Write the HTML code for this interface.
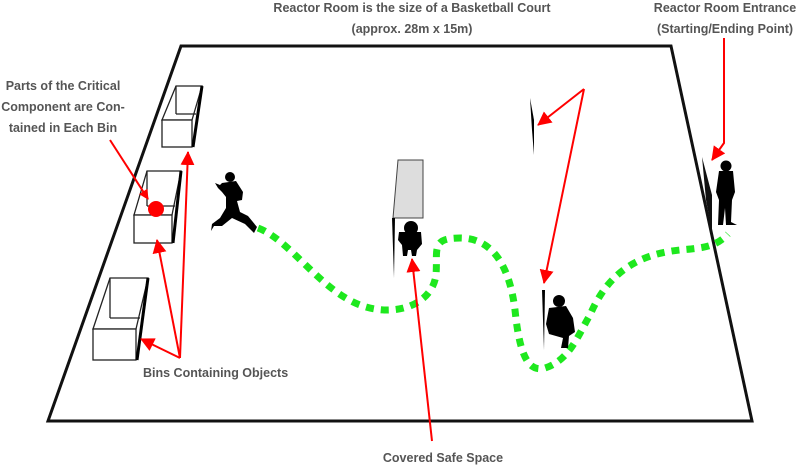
<!DOCTYPE html>
<html><head><meta charset="utf-8"><style>
html,body{margin:0;padding:0;background:#fff;}
svg{display:block;}
text{font-family:"Liberation Sans",sans-serif;font-weight:bold;font-size:12.5px;fill:#555;}
</style></head><body>
<svg width="799" height="465" viewBox="0 0 799 465" xmlns="http://www.w3.org/2000/svg">
<defs>
<marker id="ah" markerWidth="10" markerHeight="10" refX="9" refY="5" orient="auto" markerUnits="userSpaceOnUse" viewBox="0 0 10 10">
<path d="M0,0 L10,5 L0,10 z" fill="#f00"/></marker>
<marker id="ah2" markerWidth="14" markerHeight="14" refX="13" refY="7" orient="auto" markerUnits="userSpaceOnUse" viewBox="0 0 14 14">
<path d="M0,0 L14,7 L0,14 z" fill="#f00"/></marker>
</defs>
<polygon points="181,46 671,46 752,421 48,421" fill="#fff" stroke="#111" stroke-width="3"/>

<g fill="#fff" stroke="#222" stroke-width="1.3">
 <polygon points="176,86 202,86 192,120 162,120"/>
 <line x1="176" y1="86" x2="176" y2="114"/><line x1="176" y1="114" x2="196" y2="114"/>
 <rect x="162" y="120" width="30" height="27"/>
 <line x1="202" y1="86" x2="193" y2="147" stroke="#000" stroke-width="3"/>

 <polygon points="147,171 181,171 172,215 134,215"/>
 <line x1="147" y1="171" x2="147" y2="206"/><line x1="147" y1="206" x2="175" y2="206"/>
 <rect x="134" y="215" width="38" height="28"/>
 <line x1="181" y1="171" x2="173" y2="243" stroke="#000" stroke-width="3"/>

 <polygon points="110,278 148,278 136,329 93,329"/>
 <line x1="110" y1="278" x2="110" y2="318"/><line x1="110" y1="318" x2="140" y2="318"/>
 <rect x="93" y="329" width="43" height="31"/>
 <line x1="148" y1="278" x2="137" y2="360" stroke="#000" stroke-width="3"/>
</g>
<circle cx="156" cy="209" r="8" fill="#f00"/>

<polygon points="398,160 423,160 423,218 393,218" fill="#ddd" stroke="#444" stroke-width="1"/>
<polygon points="392,218 395,218 394,278" fill="#000"/>
<polygon points="530,98 534,120 534,155 532,130" fill="#000"/>
<polygon points="542,290 545,290 544,350" fill="#000"/>
<polygon points="702,157 712,195 712,232 706,200" fill="#111"/>

<path d="M258,228 C290,240 320,290 360,305 C395,318 432,305 436,275 C438,250 430,238 460,238 C495,238 510,270 515,310 C520,360 530,372 545,368 C570,360 578,335 590,315 C605,280 630,255 680,250 C700,248 715,248 728,234" fill="none" stroke="#1ee81e" stroke-width="7" stroke-dasharray="8,7"/>

<g fill="#000">
 <circle cx="230" cy="177" r="5"/>
 <path d="M222,183 L236,181 L243,192 L242,200 L237,201 L240,212 L248,216 L257,227 L254,233 L245,224 L232,218 L222,226 L214,226 L211,231 L212,224 L220,218 L226,208 L226,197 L222,192 L218,188 L215,183 L220,185 Z"/>
 <circle cx="411" cy="228" r="7"/>
 <path d="M399,232 L421,232 L422,244 L417,250 L416,256 L412,256 L411,250 L408,250 L407,256 L403,256 L402,245 L398,240 Z"/>
 <circle cx="559" cy="301" r="6"/>
 <path d="M549,308 L566,306 L573,318 L575,332 L569,336 L568,348 L561,348 L563,338 L556,336 L549,334 L546,324 Z"/>
 <circle cx="726" cy="166" r="5.5"/>
 <path d="M719,171 L733,171 L735,192 L732,200 L731,222 L737,225 L726,225 L725,208 L723,225 L718,225 L719,200 L716,192 Z"/>
</g>

<g stroke="#f00" stroke-width="2" fill="none">
 <line x1="110" y1="140" x2="148" y2="199" marker-end="url(#ah)"/>
 <line x1="180" y1="358" x2="188" y2="152" marker-end="url(#ah2)"/>
 <line x1="180" y1="358" x2="157" y2="240" marker-end="url(#ah2)"/>
 <line x1="180" y1="358" x2="141" y2="339" marker-end="url(#ah2)"/>
 <line x1="584" y1="89" x2="538" y2="125" marker-end="url(#ah2)"/>
 <line x1="584" y1="89" x2="544" y2="283" marker-end="url(#ah2)"/>
 <polyline points="724,38 724,143 712,160" marker-end="url(#ah2)"/>
 <line x1="432" y1="441" x2="412" y2="259" marker-end="url(#ah2)"/>
</g>

<text x="412" y="12" text-anchor="middle">Reactor Room is the size of a Basketball Court</text>
<text x="412" y="33" text-anchor="middle">(approx. 28m x 15m)</text>
<text x="725" y="12" text-anchor="middle">Reactor Room Entrance</text>
<text x="725" y="33" text-anchor="middle">(Starting/Ending Point)</text>
<text x="63" y="90" text-anchor="middle">Parts of the Critical</text>
<text x="63" y="111" text-anchor="middle">Component are Con-</text>
<text x="63" y="132" text-anchor="middle">tained in Each Bin</text>
<text x="143" y="377">Bins Containing Objects</text>
<text x="443" y="462" text-anchor="middle">Covered Safe Space</text>
</svg>
</body></html>
